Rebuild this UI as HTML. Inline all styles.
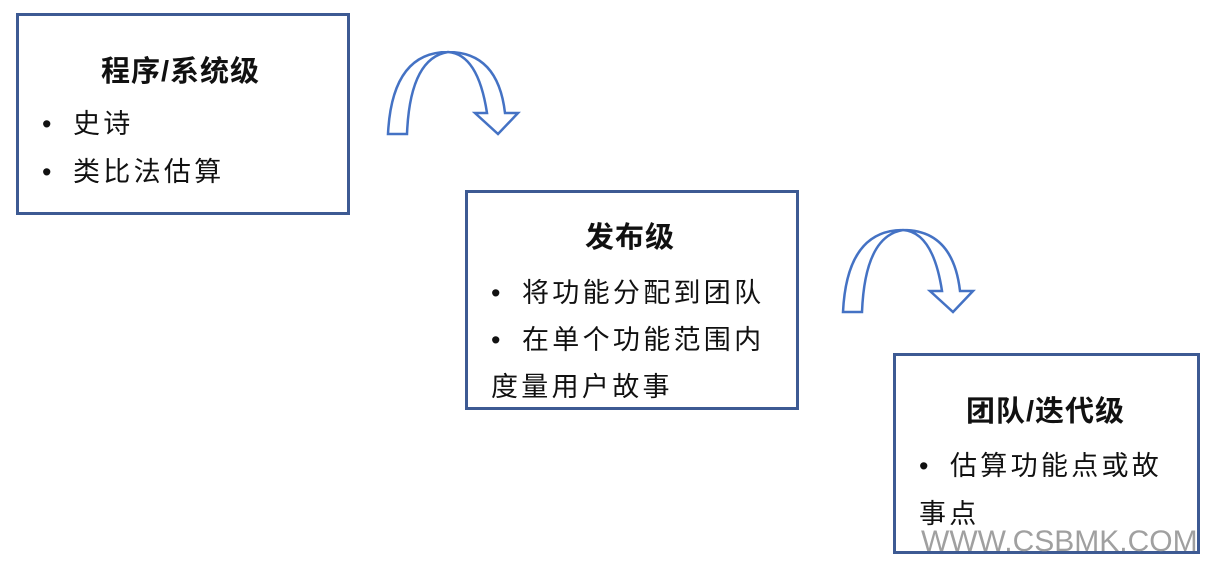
<!DOCTYPE html>
<html><head><meta charset="utf-8"><style>
body{margin:0;width:1216px;height:569px;background:#fff;position:relative;overflow:hidden;font-family:"Liberation Sans","Noto Sans CJK SC",sans-serif;color:#111}
.box{position:absolute;border:3px solid #3d5a93;box-sizing:border-box}
.t{position:absolute;font-weight:bold;font-size:29px;white-space:nowrap;letter-spacing:1px}
.l{position:absolute;font-size:27px;white-space:nowrap;letter-spacing:3.3px}
.l b{font-weight:normal;display:inline-block;width:31px}
</style></head><body>
<div class="box" style="left:16px;top:13px;width:334px;height:202px"></div>
<div class="box" style="left:465px;top:190px;width:334px;height:220px"></div>
<div class="box" style="left:893px;top:353px;width:307px;height:201px"></div>
<svg width="1216" height="569" style="position:absolute;left:0;top:0">
<g id="a" fill="#fff" stroke="#4472c4" stroke-width="2.5">
<path d="M388,134 Q392,52 448,52 Q498,52 505,113 L518,113 L498,134 L475,113 L487,113 Q478,54 448,52 Q410,58 407,134 Z"/>
</g>
<use href="#a" transform="translate(455,178)"/>
</svg>
<div class="t" style="left:101px;top:48px">程序/系统级</div>
<div class="l" style="left:42px;top:102px"><b>•</b>史诗</div>
<div class="l" style="left:42px;top:150px"><b>•</b>类比法估算</div>
<div class="t" style="left:585px;top:214px">发布级</div>
<div class="l" style="left:491px;top:271px"><b>•</b>将功能分配到团队</div>
<div class="l" style="left:491px;top:318px"><b>•</b>在单个功能范围内</div>
<div class="l" style="left:491px;top:365px">度量用户故事</div>
<div class="t" style="left:966px;top:388px">团队/迭代级</div>
<div class="l" style="left:919px;top:444px"><b>•</b>估算功能点或故</div>
<div class="l" style="left:919px;top:492px">事点</div>
<div style="position:absolute;left:921px;top:525px;font-size:30px;color:#a0a0a0;white-space:nowrap">WWW.CSBMK.COM</div>
</body></html>
